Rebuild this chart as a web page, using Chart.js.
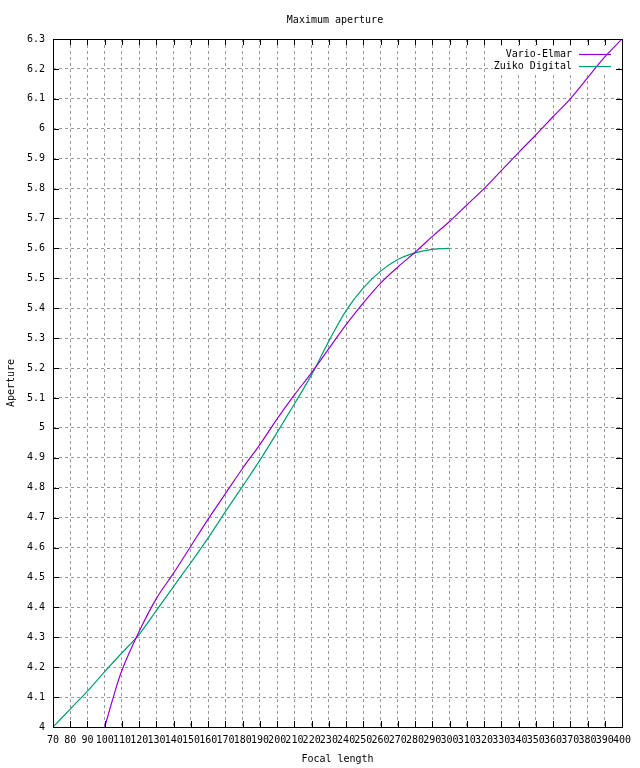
<!DOCTYPE html>
<html>
<head>
<meta charset="utf-8">
<script src="https://cdn.jsdelivr.net/npm/chart.js@4.4.1/dist/chart.umd.min.js"></script>
<style>
  html, body { margin: 0; padding: 0; background: #fff; }
  #wrap { width: 640px; height: 768px; }
</style>
</head>
<body>
<div id="wrap"><canvas id="apertureChart" width="640" height="768"></canvas></div>
<script>
const chartTitle = "Maximum aperture";
const xTitle = "Focal length";
const yTitle = "Aperture";

const seriesNames = ["Vario-Elmar", "Zuiko Digital"];
const seriesColors = ["#9400d3", "#009e73"];

// Vario-Elmar
const elmarFocal = [100, 105, 110, 120, 130, 140, 150, 160, 170, 180, 190, 200, 210, 220, 230, 240,
  250, 260, 270, 280, 290, 300, 310, 320, 330, 340, 350, 360, 370, 380, 390, 400];
const elmarAperture = [4.0, 4.1, 4.19, 4.32, 4.43, 4.515, 4.605, 4.695, 4.78, 4.865, 4.944, 5.03, 5.11, 5.185, 5.265, 5.345,
  5.418, 5.484, 5.538, 5.587, 5.64, 5.69, 5.745, 5.80, 5.86, 5.92, 5.979, 6.04, 6.10, 6.17, 6.24, 6.30];

// Zuiko Digital
const zuikoFocal = [70, 80, 90, 100, 110, 120, 130, 140, 150, 160, 170, 180, 190, 200, 210, 220,
  230, 240, 250, 260, 270, 280, 290, 300];
const zuikoAperture = [4.0, 4.06, 4.12, 4.185, 4.248, 4.31, 4.39, 4.47, 4.55, 4.632, 4.72, 4.805, 4.892, 4.985, 5.08, 5.178,
  5.29, 5.392, 5.468, 5.524, 5.563, 5.585, 5.597, 5.6];

const xMin = 70, xMax = 400, xStep = 10;
const yMin = 4, yMax = 6.3, yStep = 0.1;

const FONT = "'DejaVu Sans Mono', monospace";

function toPoints(xs, ys) {
  return xs.map((x, i) => ({ x: x, y: ys[i] }));
}

// gnuplot-like frame, inward ticks, title and key
const gnuplotDecor = {
  id: "gnuplotDecor",
  beforeDatasetsDraw(chart) {
    const ctx = chart.ctx;
    // opaque key box
    ctx.save();
    ctx.fillStyle = "#fff";
    ctx.fillRect(493, 46, 125, 26);
    ctx.restore();
  },
  afterDraw(chart) {
    const { ctx, chartArea: a, scales } = chart;
    ctx.save();
    ctx.strokeStyle = "#000";
    ctx.lineWidth = 1;
    ctx.strokeRect(a.left + 0.5, a.top + 0.5, a.right - a.left, a.bottom - a.top);

    const tl = 6;
    ctx.beginPath();
    scales.x.ticks.forEach(t => {
      const px = Math.round(scales.x.getPixelForValue(t.value)) + 0.5;
      ctx.moveTo(px, a.bottom); ctx.lineTo(px, a.bottom - tl);
      ctx.moveTo(px, a.top); ctx.lineTo(px, a.top + tl);
    });
    scales.y.ticks.forEach(t => {
      const py = Math.round(scales.y.getPixelForValue(t.value)) + 0.5;
      ctx.moveTo(a.left, py); ctx.lineTo(a.left + tl, py);
      ctx.moveTo(a.right, py); ctx.lineTo(a.right - tl, py);
    });
    ctx.stroke();

    // title
    ctx.fillStyle = "#000";
    ctx.font = "10px " + FONT;
    ctx.textAlign = "center";
    ctx.textBaseline = "middle";
    ctx.fillText(chartTitle, 335, 20);

    // key
    ctx.textAlign = "right";
    chart.data.datasets.forEach((ds, i) => {
      const y = 54 + i * 12;
      ctx.fillStyle = "#000";
      ctx.fillText(ds.label, 572, y);
      ctx.strokeStyle = ds.borderColor;
      ctx.lineWidth = 1.2;
      ctx.beginPath();
      ctx.moveTo(579, y + 0.5);
      ctx.lineTo(611, y + 0.5);
      ctx.stroke();
    });
    ctx.restore();
  }
};

const ctx = document.getElementById("apertureChart").getContext("2d");

new Chart(ctx, {
  type: "line",
  data: {
    datasets: [
      {
        label: seriesNames[0],
        data: toPoints(elmarFocal, elmarAperture),
        borderColor: seriesColors[0],
        borderWidth: 1.2,
        pointRadius: 0,
        tension: 0.35,
        fill: false
      },
      {
        label: seriesNames[1],
        data: toPoints(zuikoFocal, zuikoAperture),
        borderColor: seriesColors[1],
        borderWidth: 1.2,
        pointRadius: 0,
        tension: 0.35,
        fill: false
      }
    ]
  },
  options: {
    responsive: false,
    animation: false,
    layout: { padding: { left: 0, top: 39, right: 18, bottom: 0 } },
    plugins: {
      legend: { display: false },
      title: { display: false },
      tooltip: { enabled: false }
    },
    scales: {
      x: {
        type: "linear",
        min: xMin,
        max: xMax,
        afterFit: s => { s.height = 41; },
        ticks: {
          stepSize: xStep,
          autoSkip: false,
          maxRotation: 0,
          minRotation: 0,
          padding: 7,
          color: "#000",
          font: { family: FONT, size: 10 }
        },
        grid: { color: "#999999", lineWidth: 1, drawTicks: false },
        border: { display: false, dash: [3, 3] },
        title: {
          display: true,
          text: xTitle,
          color: "#000",
          font: { family: FONT, size: 10 },
          padding: { top: 0, bottom: 3 }
        }
      },
      y: {
        type: "linear",
        min: yMin,
        max: yMax,
        afterFit: s => { s.width = 53; },
        ticks: {
          stepSize: yStep,
          autoSkip: false,
          padding: 8,
          color: "#000",
          font: { family: FONT, size: 10 },
          callback: v => String(+Number(v).toFixed(1))
        },
        grid: { color: "#999999", lineWidth: 1, drawTicks: false },
        border: { display: false, dash: [3, 3] },
        title: {
          display: true,
          text: yTitle,
          color: "#000",
          font: { family: FONT, size: 10 },
          padding: { top: 5, bottom: 0 }
        }
      }
    }
  },
  plugins: [gnuplotDecor]
});
</script>
</body>
</html>
